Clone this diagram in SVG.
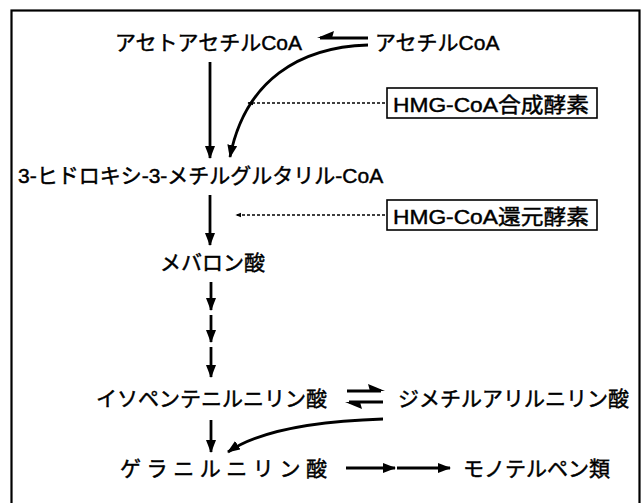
<svg xmlns="http://www.w3.org/2000/svg" width="643" height="503" viewBox="0 0 643 503">
<defs>
<marker id="ah" markerWidth="13" markerHeight="10" viewBox="0 0 13 10" refX="12" refY="5" orient="auto" markerUnits="userSpaceOnUse">
<path d="M0,0 L13,5 L0,10 Z" fill="#000"/>
</marker>
<marker id="ahs" markerWidth="6" markerHeight="6" viewBox="0 0 10 10" refX="9" refY="5" orient="auto" markerUnits="userSpaceOnUse">
<path d="M0,1 L10,5 L0,9 Z" fill="#000"/>
</marker>
</defs>
<style>
text{font-family:"Liberation Sans","Noto Sans CJK JP",sans-serif;font-size:21px;fill:#000;stroke:#000;stroke-width:0.45}
.box{fill:#fff;stroke:#000;stroke-width:1.6}
.arr{stroke:#000;stroke-width:2.8;fill:none;marker-end:url(#ah)}
.dot{stroke:#000;stroke-width:1.4;stroke-dasharray:3 2;fill:none;marker-end:url(#ahs)}
.ln{stroke:#000;stroke-width:2.8;fill:none}
</style>
<rect x="11.5" y="10.5" width="628" height="500" fill="#fff" stroke="#000" stroke-width="2.2"/>
<g id="acetoacetyl"><text x="115" y="50">アセトアセチルCoA</text></g>
<g id="acetyl"><text x="375" y="50">アセチルCoA</text></g>
<g id="hmgcoa"><text x="18" y="183">3-ヒドロキシ-3-メチルグルタリル-CoA</text></g>
<g id="mevalonate"><text x="160" y="270">メバロン酸</text></g>
<g id="ipp"><text x="96" y="406">イソペンテニルニリン酸</text></g>
<g id="dmapp"><text x="398" y="406">ジメチルアリルニリン酸</text></g>
<g id="gpp"><text x="120" y="476" textLength="207" lengthAdjust="spacing">ゲラニルニリン酸</text></g>
<g id="mono"><text x="463" y="476">モノテルペン類</text></g>
<g id="synthase"><rect class="box" x="387" y="88" width="210" height="30"/><text x="393" y="112" font-size="23" textLength="196" lengthAdjust="spacingAndGlyphs">HMG-CoA合成酵素</text></g>
<g id="reductase"><rect class="box" x="387" y="200" width="210" height="30"/><text x="393" y="224" font-size="23" textLength="196" lengthAdjust="spacingAndGlyphs">HMG-CoA還元酵素</text></g>
<g id="connectors">
<line class="ln" x1="368" y1="38" x2="320" y2="38"/>
<path d="M317,38 L334,31 L332,38 Z" fill="#000"/>
<path class="arr" d="M368,45 C300,47 245,80 230,157"/>
<line class="arr" x1="210" y1="62" x2="210" y2="158"/>
<line class="dot" x1="385" y1="103" x2="248" y2="103"/>
<line class="arr" x1="210" y1="195" x2="210" y2="245"/>
<line class="dot" x1="385" y1="215" x2="236" y2="215"/>
<line class="arr" x1="211" y1="282" x2="211" y2="310"/>
<line class="arr" x1="211" y1="315" x2="211" y2="342"/>
<line class="arr" x1="211" y1="347" x2="211" y2="377"/>
<line class="ln" x1="347" y1="391" x2="381" y2="391"/>
<path d="M385,391 L368,384 L370,391 Z" fill="#000"/>
<line class="ln" x1="383" y1="402" x2="349" y2="402"/>
<path d="M345,402 L362,409 L360,402 Z" fill="#000"/>
<path class="arr" d="M383,419 C320,421 260,430 228,452"/>
<line class="arr" x1="211" y1="420" x2="211" y2="452"/>
<line class="arr" x1="346" y1="468" x2="395" y2="468"/>
<line class="arr" x1="397" y1="468" x2="450" y2="468"/>
</g>
</svg>
